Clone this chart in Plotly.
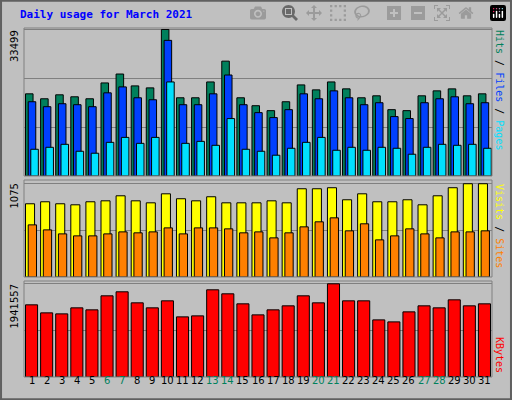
import plotly.graph_objects as go

days = list(range(1, 32))
hits = [18787,17655,18560,18107,17655,21276,23313,20597,20144,33499,17881,17881,21502,26256,17881,16070,14939,16976,20823,19692,21502,19918,17881,18334,15165,14939,18334,19465,19918,18334,18787]
files_top = [101,106,103,104,106,92,86,97,99,39,104,104,93,74,104,112,117,109,93,98,90,97,104,102,116,118,102,98,96,103,102]
pages_top = [149,147,144,151,153,142,137,143,137,81,143,141,145,118,149,151,155,148,142,137,150,147,150,147,148,154,147,144,145,144,148]
files = [round((176-y)/148*33499) for y in files_top]
pages = [round((176-y)/148*33499) for y in pages_top]
visits_top = [204,202,204,205,202,201,196,201,203,194,199,201,197,203,203,203,201,203,189,189,188,200,194,202,202,200,205,196,188,184,184]
sites_top = [225,230,234,236,236,234,232,233,232,228,234,228,228,229,233,232,238,233,227,222,218,231,224,240,236,229,234,238,232,232,231]
visits = [round((277-y)/93*1075) for y in visits_top]
sites = [round((277-y)/93*1075) for y in sites_top]
kb_top = [305,313,314,308,310,296,292,303,308,301,317,316,290,294,304,315,310,306,296,303,284,301,301,320,322,312,306,308,300,306,304]
kbytes = [round((377-y)/93*1941557) for y in kb_top]
weekends = [6,7,13,14,20,21,27,28]

fig = go.Figure()
line = dict(color="black", width=1)
def bar(y, color, off, w, ax):
    fig.add_trace(go.Bar(x=days, y=y, marker=dict(color=color, line=line), offset=off, width=w,
                         xaxis="x" if ax == 1 else f"x{ax}", yaxis="y" if ax == 1 else f"y{ax}"))
bar(hits, "#00805C", -0.4, 0.5, 1)
bar(files, "#0040FF", -0.22, 0.5, 1)
bar(pages, "#00E0FF", -0.05, 0.5, 1)
bar(visits, "#FFFF00", -0.4, 0.6, 2)
bar(sites, "#FF8000", -0.22, 0.55, 2)
bar(kbytes, "#FF0000", -0.4, 0.8, 3)

xd = [24/512, 492/512]
common_x = dict(range=[0.5, 31.5], showticklabels=False, showgrid=False, zeroline=False, domain=xd, fixedrange=True)
fig.update_layout(
    width=512, height=400, margin=dict(l=0, r=0, t=0, b=0),
    paper_bgcolor="#C0C0C0", plot_bgcolor="#C0C0C0", showlegend=False, barmode="overlay",
    xaxis=dict(**common_x, anchor="y"),
    xaxis2=dict(**common_x, anchor="y2"),
    xaxis3=dict(**common_x, anchor="y3"),
    yaxis=dict(domain=[1-176/400, 1-28/400], range=[0, 33499*1.01], showticklabels=False, gridcolor="#808080", dtick=33499/3, zeroline=False),
    yaxis2=dict(domain=[1-277/400, 1-180/400], range=[0, 1075*1.04], showticklabels=False, gridcolor="#808080", dtick=1075/2, zeroline=False),
    yaxis3=dict(domain=[1-377/400, 1-281/400], range=[0, 1941557*1.03], showticklabels=False, gridcolor="#808080", dtick=1941557/2, zeroline=False),
)

ann = []
ann.append(dict(text="<b>Daily usage for March 2021</b>", x=18/512, y=1-14/400, xref="paper", yref="paper",
                xanchor="left", yanchor="middle", showarrow=False, font=dict(family="DejaVu Sans Mono", size=11, color="#0000FF")))
for d in days:
    ann.append(dict(text=str(d), x=d, y=1-388/400, xref="x3", yref="paper", showarrow=False,
                    font=dict(family="DejaVu Sans", size=10, color="#00805C" if d in weekends else "black")))
for txt, yy in [("33499", 28), ("1075", 182), ("1941557", 282)]:
    ann.append(dict(text=txt, x=14/512, y=1-yy/400, xref="paper", yref="paper", textangle=-90,
                    xanchor="center", yanchor="top", showarrow=False, font=dict(family="DejaVu Sans", size=10, color="black")))
def side(parts, ytop):
    txt = "".join(f"<span style='color:{c}'>{t}</span>" for t, c in parts)
    ann.append(dict(text=txt, x=500/512, y=1-ytop/400, xref="paper", yref="paper", textangle=90,
                    xanchor="center", yanchor="top", showarrow=False, font=dict(family="DejaVu Sans Mono", size=10)))
side([("Hits", "#00805C"), (" / ", "black"), ("Files", "#0040FF"), (" / ", "black"), ("Pages", "#00E0FF")], 28)
side([("Visits", "#FFFF00"), (" / ", "black"), ("Sites", "#FF8000")], 182)
side([("KBytes", "#FF0000")], 335)
fig.update_layout(annotations=ann)

shapes = [
    dict(type="rect", xref="paper", yref="paper", x0=0.002, y0=0.002, x1=0.998, y1=0.998, line=dict(color="#606060", width=2)),
]
for y0, y1 in [(176, 28), (277, 180), (377, 281)]:
    shapes.append(dict(type="rect", xref="paper", yref="paper", x0=xd[0], x1=xd[1], y0=1-y0/400, y1=1-y1/400,
                       line=dict(color="#808080", width=1)))
fig.update_layout(shapes=shapes)
fig.write_html("out.html", post_script="document.body.style.margin='0';document.body.style.overflow='hidden';")
